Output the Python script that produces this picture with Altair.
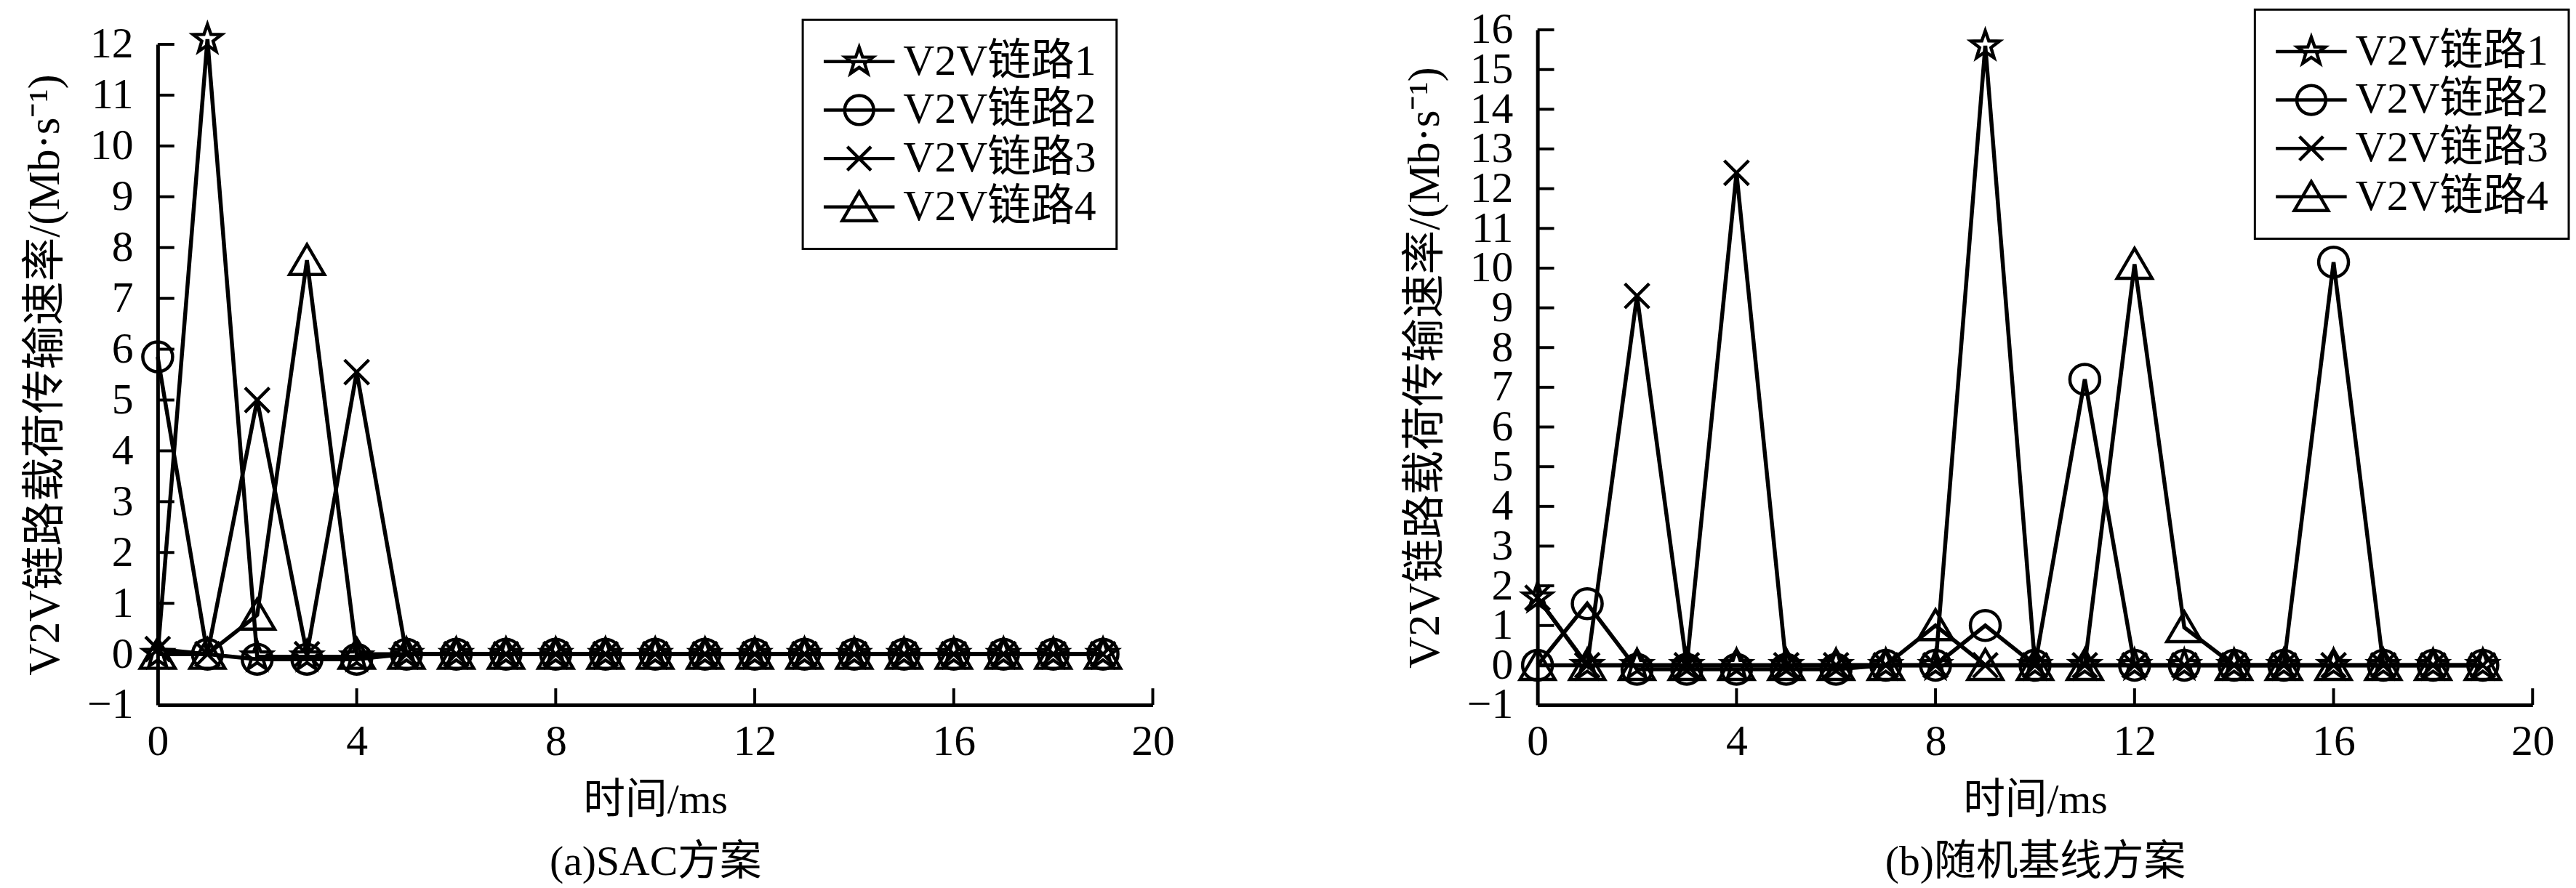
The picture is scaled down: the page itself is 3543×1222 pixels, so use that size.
import altair as alt
import pandas as pd

FONT = "Liberation Serif, Noto Sans CJK SC"

time_ms = [0, 1, 2, 3, 4, 5, 6, 7, 8, 9, 10, 11, 12, 13, 14, 15, 16, 17, 18, 19]
series = ["V2V链路1", "V2V链路2", "V2V链路3", "V2V链路4"]

# (a) SAC scheme
sac_link1 = [0, 12.1, -0.05, -0.05, -0.05, 0, 0, 0, 0, 0, 0, 0, 0, 0, 0, 0, 0, 0, 0, 0]
sac_link2 = [5.85, 0, -0.1, -0.1, -0.1, 0, 0, 0, 0, 0, 0, 0, 0, 0, 0, 0, 0, 0, 0, 0]
sac_link3 = [0.1, 0, 5.0, 0, 5.55, 0, 0, 0, 0, 0, 0, 0, 0, 0, 0, 0, 0, 0, 0, 0]
sac_link4 = [0, 0, 0.77, 7.75, 0, 0, 0, 0, 0, 0, 0, 0, 0, 0, 0, 0, 0, 0, 0, 0]

# (b) random baseline scheme
rnd_link1 = [1.7, 0, 0, 0, 0, 0, 0, 0, 0, 15.6, 0, 0, 0, 0, 0, 0, 0, 0, 0, 0]
rnd_link2 = [0, 1.55, -0.1, -0.1, -0.1, -0.1, -0.1, 0, 0, 1.0, 0, 7.2, 0, 0, 0, 0, 10.15, 0, 0, 0]
rnd_link3 = [1.7, 0, 9.3, 0, 12.4, 0, 0, 0, 0, 0, 0, 0, 0, 0, 0, 0, 0, 0, 0, 0]
rnd_link4 = [0, 0, 0, 0, 0, 0, 0, 0, 1.0, 0, 0, 0, 10.1, 0.95, 0, 0, 0, 0, 0, 0]

x_ticks = [0, 4, 8, 12, 16, 20]
sac_y_ticks = [-1, 0, 1, 2, 3, 4, 5, 6, 7, 8, 9, 10, 11, 12]
rnd_y_ticks = [-1, 0, 1, 2, 3, 4, 5, 6, 7, 8, 9, 10, 11, 12, 13, 14, 15, 16]

Y_TITLE = "V2V链路载荷传输速率/(Mb·s⁻¹)"

STAR = ("M0,-1L0.235,-0.324L0.951,-0.309L0.38,0.124L0.588,0.809L0,0.4"
        "L-0.588,0.809L-0.38,0.124L-0.951,-0.309L-0.235,-0.324Z")
CIRCLE = "M1,0A1,1 0 1,1 -1,0A1,1 0 1,1 1,0Z"
XMARK = "M-0.82,-0.82L0.82,0.82M-0.82,0.82L0.82,-0.82"
TRI = "M0,-1.05L1.17,0.95L-1.17,0.95Z"
LINE = "M-2.45,0L2.45,0"
point_shapes = [STAR, CIRCLE, XMARK, TRI]
legend_shapes = [LINE + s for s in point_shapes]

W = 1376
H = 934


def long_df(lists):
    rows = []
    for name, vals in zip(series, lists):
        for t, v in zip(time_ms, vals):
            rows.append({"t": t, "y": v, "s": name})
    return pd.DataFrame(rows)


def panel(lists, y_ticks, y_top, subtitle, lx, ly):
    df = long_df(lists)
    xenc = alt.X("t:Q", scale=alt.Scale(domain=[0, 20], nice=False, zero=False),
                 axis=alt.Axis(values=x_ticks, tickSize=0, grid=False, domainWidth=5,
                               domainColor="black", labelFont=FONT, labelFontSize=60,
                               labelColor="black", labelPadding=22, labelFlush=False,
                               labelOverlap=False, title=["时间/ms", subtitle],
                               titleFont=FONT, titleFontSize=58, titleFontWeight="normal",
                               titleColor="black", titleLineHeight=86, titlePadding=22))
    yenc = alt.Y("y:Q", scale=alt.Scale(domain=[y_ticks[0], y_ticks[-1]], nice=False,
                                        zero=False, range=[H, y_top]),
                 axis=alt.Axis(values=y_ticks, tickSize=0, grid=False, domainWidth=5,
                               domainColor="black", labelFont=FONT, labelFontSize=60,
                               labelColor="black", labelPadding=34, labelFlush=False,
                               labelOverlap=False, title=Y_TITLE, titleFont=FONT,
                               titleFontSize=61, titleFontWeight="normal", titleColor="black",
                               titlePadding=26))
    lines = alt.Chart(df).mark_line(color="black", strokeWidth=5.5).encode(
        x=xenc, y=yenc, detail="s:N")
    pts = alt.Chart(df).mark_point(filled=False, color="black", strokeWidth=4.5,
                                   size=1700, opacity=1).encode(
        x=xenc, y=yenc,
        shape=alt.Shape("s:N", scale=alt.Scale(domain=series, range=point_shapes), legend=None))
    leg = alt.Chart(df).transform_filter("false").mark_point(
        filled=False, color="black", strokeWidth=4.5, size=1600, opacity=1).encode(
        x=xenc, y=yenc,
        shape=alt.Shape("s:N", scale=alt.Scale(domain=series, range=legend_shapes),
                        legend=alt.Legend(orient="none", legendX=lx, legendY=ly, title=None,
                                          labelFont=FONT, labelFontSize=60, labelColor="black",
                                          labelLimit=0, strokeColor="black", fillColor="white",
                                          padding=28, rowPadding=7, symbolSize=1600,
                                          symbolStrokeWidth=4.5, symbolStrokeColor="black",
                                          symbolOffset=20, labelOffset=31)))
    yt = pd.DataFrame({"y": y_ticks[1:]})
    ytick = alt.Chart(yt).mark_rule(color="black", strokeWidth=4).encode(
        y=yenc, x=alt.value(0), x2=alt.value(23))
    xt = pd.DataFrame({"t": x_ticks[1:]})
    xtick = alt.Chart(xt).mark_rule(color="black", strokeWidth=4).encode(
        x=xenc, y=alt.value(H), y2=alt.value(H - 23))
    layer = alt.layer(lines, pts, ytick, xtick, leg).resolve_scale(shape="independent")
    return layer.properties(width=W, height=H)


left = panel([sac_link1, sac_link2, sac_link3, sac_link4], sac_y_ticks, 20,
             "(a)SAC方案", 892, -14)
right = panel([rnd_link1, rnd_link2, rnd_link3, rnd_link4], rnd_y_ticks, 0,
              "(b)随机基线方案", 992, -28)

chart = alt.hconcat(left, right, spacing=316).properties(
    padding={"left": 24, "top": 0, "right": 0, "bottom": 0}
).configure_view(stroke=None).configure_legend(strokeWidth=3)

chart.save("out.html", embed_options={"renderer": "svg", "actions": False})
